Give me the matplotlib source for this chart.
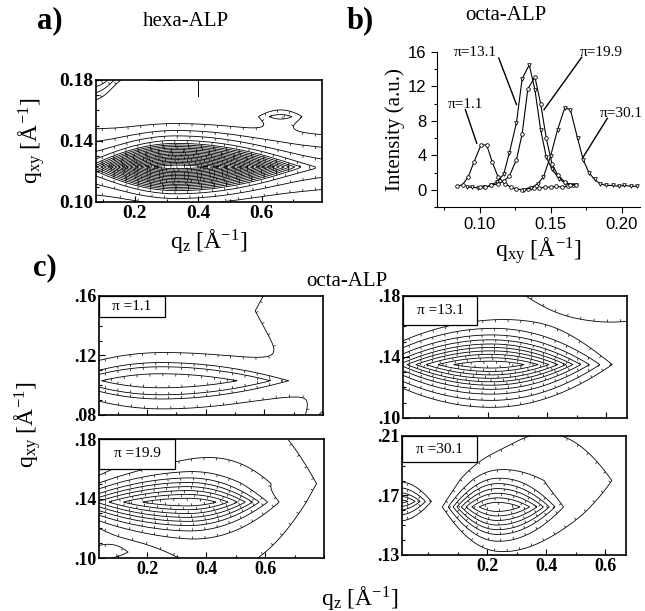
import numpy as np
import matplotlib
matplotlib.use("Agg")
import matplotlib.pyplot as plt
from matplotlib import patheffects
from matplotlib.patches import Rectangle
from matplotlib.ticker import MultipleLocator, FixedLocator

plt.rcParams['font.family'] = ['Liberation Serif', 'DejaVu Serif']
plt.rcParams['mathtext.fontset'] = 'custom'
plt.rcParams['mathtext.rm'] = 'Liberation Serif'
plt.rcParams['mathtext.it'] = 'Liberation Serif:italic'

# ---- panel b: octa-ALP in-plane profiles
q_p1 = [0.084, 0.088, 0.092, 0.096, 0.101, 0.105, 0.109, 0.113, 0.118, 0.122, 0.126,
        0.130, 0.134, 0.138, 0.142, 0.146, 0.150, 0.154, 0.158, 0.162, 0.166]
I_p1 = [0.4, 0.6, 1.5, 3.2, 5.2, 5.2, 3.2, 1.5, 0.7, 0.3, 0.1,
        0.0, 0.1, 0.2, 0.2, 0.3, 0.3, 0.4, 0.3, 0.4, 0.5]
q_p13 = [0.091, 0.095, 0.099, 0.103, 0.108, 0.112, 0.117, 0.121, 0.126, 0.130,
         0.135, 0.139, 0.143, 0.147, 0.151, 0.156, 0.160, 0.164, 0.168]
I_p13 = [0.3, 0.3, 0.2, 0.3, 0.5, 0.9, 1.8, 4.3, 7.8, 12.9,
         14.5, 11.6, 7.0, 3.8, 2.4, 1.3, 0.8, 0.6, 0.5]
q_p19 = [0.100, 0.104, 0.108, 0.113, 0.117, 0.121, 0.126, 0.130, 0.134, 0.139,
         0.143, 0.147, 0.151, 0.155, 0.160, 0.164, 0.168]
I_p19 = [0.3, 0.3, 0.5, 0.7, 1.0, 1.6, 3.5, 6.5, 11.7, 13.1,
         10.0, 6.0, 3.0, 1.7, 0.9, 0.6, 0.6]
q_p30 = [0.131, 0.136, 0.141, 0.145, 0.150, 0.155, 0.160, 0.164, 0.169, 0.173,
         0.177, 0.181, 0.185, 0.189, 0.194, 0.198, 0.202, 0.207, 0.211]
I_p30 = [0.0, 0.2, 0.7, 1.5, 3.9, 7.0, 9.5, 9.3, 6.0, 3.5,
         2.0, 1.2, 0.7, 0.5, 0.5, 0.4, 0.5, 0.4, 0.4]
curve_labels = ["π=1.1", "π=13.1", "π=19.9", "π=30.1"]
label_xy = [(0.090, 9.9), (0.097, 15.9), (0.186, 15.9), (0.2035, 8.9)]
arrow_from = [(0.090, 9.3), (0.1135, 15.3), (0.172, 15.4), (0.190, 8.3)]
arrow_to = [(0.098, 5.4), (0.126, 9.9), (0.1454, 9.3), (0.173, 3.8)]

# ---- contour maps: peaks as (amp, qz0, qxy0, width_left, width_right, width_qxy)
hexa_peaks = [(1.0, 0.33, 0.123, 0.125, 0.18, 0.0036),
              (0.012, 0.30, 0.122, 0.9, 0.9, 0.014),
              (0.03, 0.06, 0.185, 0.06, 0.06, 0.006),
              (0.005, 0.28, 0.184, 0.12, 0.12, 0.004),
              (0.0035, 0.66, 0.156, 0.06, 0.06, 0.004)]
hexa_levels = [0.3, 0.55, 0.8, 1.05, 1.3, 1.55, 1.8, 2.05, 2.3, 2.55, 2.8, 3.05,
               3.3, 3.55, 3.8, 4.05, 4.5, 5.1, 5.7, 6.3]

pressures = ["π =1.1", "π =13.1", "π =19.9", "π =30.1"]
c_ylims = [(0.08, 0.16), (0.10, 0.18), (0.10, 0.18), (0.13, 0.21)]
c_yticks = [[0.08, 0.12, 0.16], [0.10, 0.14, 0.18], [0.10, 0.14, 0.18], [0.13, 0.17, 0.21]]
c_yticklabels = [[".08", ".12", ".16"], [".10", ".14", ".18"],
                 [".10", ".14", ".18"], [".13", ".17", ".21"]]
c_xlims = [(0.036, 0.80), (-0.088, 0.671), (0.036, 0.80), (-0.088, 0.671)]
c_peaks = [
    [(1.0, 0.245, 0.103, 0.20, 0.26, 0.0047),
     (0.06, 0.95, 0.15, 0.35, 0.35, 0.06),
     (0.5, 0.83, 0.072, 0.05, 0.05, 0.006)],
    [(1.0, 0.21, 0.135, 0.18, 0.16, 0.0045),
     (0.006, 0.62, 0.19, 0.35, 0.35, 0.025)],
    [(1.0, 0.337, 0.1376, 0.20, 0.125, 0.0042),
     (0.008, 0.45, 0.15, 0.30, 0.30, 0.05),
     (0.004, 0.05, 0.104, 0.08, 0.08, 0.006)],
    [(1.0, 0.234, 0.1623, 0.078, 0.10, 0.005),
     (0.12, -0.10, 0.166, 0.06, 0.06, 0.004),
     (0.01, 0.40, 0.18, 0.25, 0.25, 0.04)],
]
c_levels = [
    [1.0, 2.0, 2.6, 4.0],
    [0.5, 1.0, 1.5, 2.0, 2.5, 3.0, 3.6, 4.3, 5.2, 6.2],
    [0.6, 1.2, 1.8, 2.4, 3.0, 3.6, 4.3, 5.1, 6.0],
    [0.6, 1.2, 1.8, 2.4, 3.0, 3.6, 4.4, 5.4],
]
box_sizes = [(0.295, 0.176), (0.33, 0.238), (0.338, 0.25), (0.335, 0.22)]


def field(qz, qxy, peaks):
    Z, Y = np.meshgrid(qz, qxy)
    F = np.zeros_like(Z)
    for amp, z0, y0, wl, wr, wy in peaks:
        w = np.where(Z < z0, wl, wr)
        F += amp * np.exp(-((Z - z0) / w) ** 2 - np.abs((Y - y0) / wy))
    return -np.log(F)


def draw_map(ax, xlim, ylim, peaks, levels):
    qz = np.linspace(xlim[0], xlim[1], 500)
    qxy = np.linspace(ylim[0], ylim[1], 300)
    cs = ax.contour(qz, qxy, field(qz, qxy, peaks), levels=levels,
                    colors='k', linewidths=0.6)
    cs.set(path_effects=[patheffects.withTickedStroke(angle=-90, spacing=9, length=0.2,
                                                       linewidth=0.5)])
    ax.set_xlim(xlim)
    ax.set_ylim(ylim)
    ax.tick_params(direction='in', which='both', top=False, right=False,
                   length=4, width=0.8)
    ax.tick_params(which='minor', length=2)
    for s in ax.spines.values():
        s.set_linewidth(1.2)


fig = plt.figure(figsize=(6.45, 6.11), dpi=100)

# ---- a) hexa-ALP
ax_a = fig.add_axes([0.1488, 0.6694, 0.3504, 0.1997])
draw_map(ax_a, (0.077, 0.79), (0.10, 0.18), hexa_peaks, hexa_levels)
ax_a.set_xticks([0.2, 0.4, 0.6])
ax_a.set_xticklabels(["0.2", "0.4", "0.6"], fontsize=14, fontweight='bold')
ax_a.set_yticks([0.10, 0.14, 0.18])
ax_a.set_yticklabels(["0.10", "0.14", "0.18"], fontsize=14, fontweight='bold')
ax_a.xaxis.set_minor_locator(MultipleLocator(0.1))
ax_a.yaxis.set_minor_locator(MultipleLocator(0.01))
ax_a.tick_params(axis='both', pad=2)
ax_a.axvline(0.4, ymin=0.87, ymax=1.0, color='k', lw=0.7)
ax_a.set_xlabel(r"q$_{\mathrm{z}}$ [Å$^{\mathrm{-1}}$]", fontsize=17, labelpad=4)
ax_a.set_ylabel(r"q$_{\mathrm{xy}}$ [Å$^{\mathrm{-1}}$]", fontsize=17, labelpad=9)

# ---- b) octa-ALP profiles
ax_b = fig.add_axes([0.6775, 0.6612, 0.3147, 0.2537])
markers = ['o', 'v', 'o', 'v']
for q, I, m in zip([q_p1, q_p13, q_p19, q_p30], [I_p1, I_p13, I_p19, I_p30], markers):
    ax_b.plot(q, I, color='k', lw=0.8, marker=m, ms=2.6, mfc='white', mew=0.6)
for lab, xy, a0, a1 in zip(curve_labels, label_xy, arrow_from, arrow_to):
    ax_b.plot([a0[0], a1[0]], [a0[1], a1[1]], color='k', lw=1.0)
ax_b.text(label_xy[0][0], label_xy[0][1], curve_labels[0], fontsize=11, ha='center', va='center')
ax_b.text(label_xy[1][0], label_xy[1][1], curve_labels[1], fontsize=11, ha='center', va='center')
ax_b.text(label_xy[2][0], label_xy[2][1], curve_labels[2], fontsize=11, ha='center', va='center')
ax_b.text(0.2148, label_xy[3][1], curve_labels[3], fontsize=11, ha='right', va='center')
ax_b.set_xlim(0.07, 0.213)
ax_b.set_ylim(-2, 16)
ax_b.spines['top'].set_visible(False)
ax_b.spines['right'].set_visible(False)
ax_b.set_xticks([0.10, 0.15, 0.20])
ax_b.set_xticklabels(["0.10", "0.15", "0.20"], fontsize=12, family='Liberation Sans')
ax_b.xaxis.set_minor_locator(FixedLocator([0.075, 0.125, 0.175]))
ax_b.set_yticks([0, 4, 8, 12, 16])
ax_b.set_yticklabels(["0", "4", "8", "12", "16"], fontsize=12, family='Liberation Sans')
ax_b.yaxis.set_minor_locator(MultipleLocator(2))
ax_b.tick_params(direction='out', which='both', length=4, width=0.8)
ax_b.tick_params(which='minor', length=2)
ax_b.set_xlabel(r"q$_{\mathrm{xy}}$ [Å$^{\mathrm{-1}}$]", fontsize=17, labelpad=2)
ax_b.set_ylabel("Intensity (a.u.)", fontsize=15, labelpad=2)

# ---- c) octa-ALP maps
c_rects = [[0.1535, 0.3208, 0.3473, 0.1948], [0.6248, 0.3159, 0.3473, 0.1997],
           [0.1535, 0.0867, 0.3488, 0.1948], [0.6233, 0.0917, 0.3473, 0.1948]]
for i in range(4):
    ax = fig.add_axes(c_rects[i])
    draw_map(ax, c_xlims[i], c_ylims[i], c_peaks[i], c_levels[i])
    ax.set_yticks(c_yticks[i])
    ax.set_yticklabels(c_yticklabels[i], fontsize=13, fontweight='bold')
    ax.yaxis.set_minor_locator(MultipleLocator(0.01))
    ax.set_xticks([0.2, 0.4, 0.6])
    ax.xaxis.set_minor_locator(MultipleLocator(0.1))
    if i >= 2:
        ax.set_xticklabels(["0.2", "0.4", "0.6"], fontsize=13, fontweight='bold')
    else:
        ax.set_xticklabels([])
    ax.tick_params(axis='both', pad=2)
    bw, bh = box_sizes[i]
    ax.add_patch(Rectangle((0, 1 - bh), bw, bh, transform=ax.transAxes,
                           fc='white', ec='k', lw=0.9, zorder=5))
    ax.text(bw / 2, 1 - bh / 2, pressures[i], transform=ax.transAxes, fontsize=11,
            ha='center', va='center', zorder=6)

# ---- panel letters and titles
fig.text(50 / 645, 1 - 21 / 611, "a)", fontsize=22, fontweight='bold', ha='center', va='center')
fig.text(186 / 645, 1 - 22 / 611, "hexa-ALP", fontsize=15, ha='center', va='center')
fig.text(360 / 645, 1 - 21 / 611, "b)", fontsize=22, fontweight='bold', ha='center', va='center')
fig.text(506 / 645, 1 - 15 / 611, "octa-ALP", fontsize=15, ha='center', va='center')
fig.text(45 / 645, 1 - 268 / 611, "c)", fontsize=22, fontweight='bold', ha='center', va='center')
fig.text(347 / 645, 1 - 281 / 611, "octa-ALP", fontsize=15, ha='center', va='center')
fig.text(28 / 645, 1 - 425 / 611, r"q$_{\mathrm{xy}}$ [Å$^{\mathrm{-1}}$]", fontsize=17,
         rotation=90, ha='center', va='center')
fig.text(360 / 645, 1 - 598 / 611, r"q$_{\mathrm{z}}$ [Å$^{\mathrm{-1}}$]", fontsize=17,
         ha='center', va='center')

fig.savefig("out.png", dpi=100)
